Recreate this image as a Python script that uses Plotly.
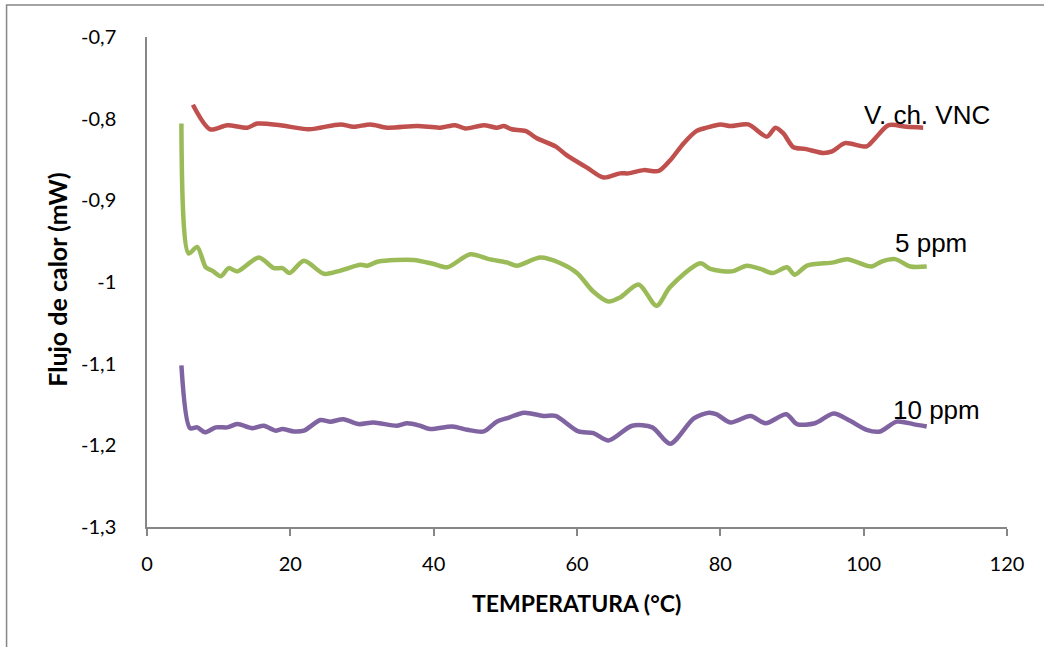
import plotly.graph_objects as go

# Temperature (°C) and heat flow (mW) for each sample
temp_vnc = [6.4, 8.8, 11.2, 14.0, 15.4, 18.6, 22.6, 27.0, 28.8, 31.2, 33.5, 37.7, 40.9,
            43.0, 44.4, 47.0, 48.8, 49.8, 50.9, 52.8, 54.4, 57.0, 58.6, 61.4, 63.7,
            66.0, 67.2, 69.3, 71.4, 73.0, 74.9, 76.7, 78.1, 80.0, 81.4, 83.9, 86.5,
            87.7, 88.8, 90.2, 91.8, 94.4, 95.6, 97.4, 100.4, 101.6, 103.5, 106.0, 108.3]
flow_vnc = [-0.783, -0.813, -0.808, -0.811, -0.806, -0.808, -0.813, -0.807, -0.810, -0.807,
            -0.811, -0.809, -0.811, -0.808, -0.812, -0.808, -0.811, -0.809, -0.813, -0.815,
            -0.824, -0.834, -0.845, -0.860, -0.872, -0.867, -0.867, -0.863, -0.864, -0.851,
            -0.830, -0.815, -0.811, -0.807, -0.809, -0.807, -0.822, -0.811, -0.818, -0.835,
            -0.837, -0.842, -0.840, -0.830, -0.834, -0.824, -0.808, -0.810, -0.811]

temp_5 = [4.8, 5.8, 7.0, 8.2, 9.1, 10.3, 11.4, 12.6, 15.6, 17.7, 18.9, 19.9, 21.9, 24.7,
          27.0, 29.8, 30.7, 32.3, 37.2, 40.0, 41.9, 45.1, 47.7, 50.2, 51.6, 54.9, 57.7,
          60.0, 62.3, 64.4, 66.0, 68.6, 71.1, 73.0, 77.2, 78.6, 81.6, 83.7, 85.6, 87.3,
          89.3, 90.4, 92.1, 95.8, 97.7, 101.1, 102.5, 104.4, 106.5, 108.8]
flow_5 = [-0.806, -0.965, -0.957, -0.982, -0.986, -0.993, -0.983, -0.987, -0.970, -0.983,
          -0.983, -0.989, -0.974, -0.990, -0.986, -0.979, -0.980, -0.975, -0.973, -0.978,
          -0.982, -0.966, -0.972, -0.976, -0.980, -0.970, -0.977, -0.989, -1.012, -1.024,
          -1.019, -1.003, -1.029, -1.006, -0.977, -0.984, -0.987, -0.980, -0.984, -0.989,
          -0.982, -0.991, -0.980, -0.976, -0.972, -0.981, -0.975, -0.972, -0.981, -0.981]

temp_10 = [4.8, 6.0, 7.0, 8.1, 9.6, 11.2, 12.6, 14.7, 16.3, 17.9, 18.9, 20.5, 21.9, 24.2,
           25.6, 27.4, 29.5, 31.6, 34.9, 36.3, 38.1, 39.5, 42.6, 44.7, 47.0, 48.8, 50.5,
           52.6, 55.3, 57.0, 60.2, 62.3, 64.4, 67.7, 70.5, 73.0, 76.3, 78.4, 79.5, 81.4,
           84.2, 86.3, 89.2, 90.7, 93.2, 95.8, 98.1, 100.4, 102.3, 104.6, 106.9, 108.8]
flow_10 = [-1.102, -1.179, -1.178, -1.184, -1.178, -1.178, -1.174, -1.179, -1.176, -1.182,
           -1.180, -1.183, -1.182, -1.169, -1.171, -1.168, -1.174, -1.172, -1.176, -1.173,
           -1.176, -1.180, -1.177, -1.181, -1.183, -1.171, -1.166, -1.160, -1.164, -1.164,
           -1.183, -1.185, -1.194, -1.176, -1.178, -1.198, -1.167, -1.160, -1.162, -1.172,
           -1.164, -1.173, -1.162, -1.174, -1.173, -1.161, -1.170, -1.181, -1.183, -1.171,
           -1.174, -1.177]

series_names = ["V. ch. VNC", "5 ppm", "10 ppm"]
series_colors = ["#C0504D", "#9BBB59", "#8064A2"]
series = [(temp_vnc, flow_vnc), (temp_5, flow_5), (temp_10, flow_10)]

x_ticks = [0, 20, 40, 60, 80, 100, 120]
y_ticks = [-0.7, -0.8, -0.9, -1.0, -1.1, -1.2, -1.3]
y_tick_text = ["-0,7", "-0,8", "-0,9", "-1", "-1,1", "-1,2", "-1,3"]

fig = go.Figure()
for (xs, ys), name, color in zip(series, series_names, series_colors):
    fig.add_trace(go.Scatter(
        x=xs, y=ys, mode="lines", name=name,
        line=dict(color=color, width=4.5, shape="spline", smoothing=0.8),
        showlegend=False,
    ))

# Series labels placed near the right end of each curve
label_pos = [(99.7, -0.796), (104.1, -0.952), (103.8, -1.157)]
for name, (lx, ly) in zip(series_names, label_pos):
    fig.add_annotation(x=lx, y=ly, text=name, showarrow=False, xanchor="left",
                       yanchor="middle",
                       font=dict(family="Liberation Sans, Arial", size=26, color="#000000"))

fig.update_xaxes(
    range=[0, 120], tickvals=x_ticks, ticktext=[str(v) for v in x_ticks],
    showline=True, linecolor="#868686", linewidth=1.5,
    ticks="outside", ticklen=7, tickcolor="#868686", tickwidth=1.5,
    showgrid=False, zeroline=False, ticklabelstandoff=11,
    tickfont=dict(family="Lato, Carlito, Calibri", size=20, color="#000000"),
)
fig.update_yaxes(
    range=[-1.3, -0.7], tickvals=y_ticks, ticktext=y_tick_text,
    showline=True, linecolor="#868686", linewidth=1.5,
    ticks="", showgrid=False, zeroline=False, ticklabelstandoff=25,
    tickfont=dict(family="Lato, Carlito, Calibri", size=20, color="#000000"),
)

fig.add_annotation(xref="paper", yref="paper", x=0.499, y=-0.155,
                   text="<b>TEMPERATURA (°C)</b>", showarrow=False,
                   xanchor="center", yanchor="middle",
                   font=dict(family="Lato, Carlito, Calibri", size=23, color="#000000"))
fig.add_annotation(xref="paper", yref="paper", x=-0.105, y=0.504,
                   text="<b>Flujo de calor (mW)</b>", showarrow=False, textangle=-90,
                   xanchor="center", yanchor="middle",
                   font=dict(family="Lato, Carlito, Calibri", size=25, color="#000000"))

# Chart-area frame
fig.add_shape(type="rect", xref="paper", yref="paper",
              x0=-0.1633, x1=1.1, y0=-0.3, y1=1.0654,
              line=dict(color="#868686", width=1.5), fillcolor="rgba(0,0,0,0)",
              layer="below")

fig.update_layout(
    width=1044, height=647,
    margin=dict(l=147, r=37, t=37, b=120),
    plot_bgcolor="#FFFFFF", paper_bgcolor="#FFFFFF",
)

fig.write_html("out.html")
